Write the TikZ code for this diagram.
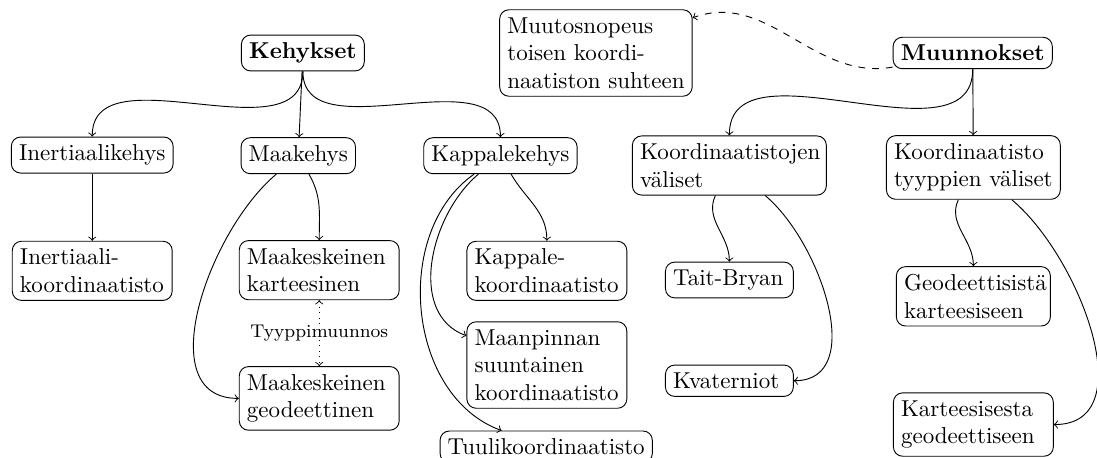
\documentclass[tikz,border=0pt]{standalone}
\usepackage{tikz}
\hyphenpenalty=10000
\exhyphenpenalty=10000
\tikzset{
  framenode/.style={draw, rounded corners, align=left},
  rootnode/.style={framenode, font=\bfseries},
  colnode/.style={framenode, text width=2.21cm},
  linkarrow/.style={->},
  typearrow/.style={<->, dotted},
  ratearrow/.style={->, dashed},
  typelabel/.style={font=\footnotesize}
}
\begin{document}
\begin{tikzpicture}
  \useasboundingbox (0,0) rectangle (16.77,-7.00);
  % roots
  \node[rootnode] (keh) at (4.63,-0.81) {Kehykset};
  \node[rootnode] (muun) at (14.87,-0.81) {Muunnokset};
  \node[framenode] (rate) at (9.11,-0.81) {Muutosnopeus\\toisen koordi-\\naatiston suhteen};
  % frames
  \node[framenode] (ik) at (1.41,-2.37) {Inertiaalikehys};
  \node[framenode] (maa) at (4.56,-2.38) {Maakehys};
  \node[framenode] (kap) at (7.65,-2.38) {Kappalekehys};
  \node[colnode] (ikk) at (1.41,-4.14) {Inertiaali-\\koordinaatisto};
  \node[colnode] (mkk) at (4.88,-4.13) {Maakeskeinen\\karteesinen};
  \node[colnode] (mkg) at (4.88,-6.09) {Maakeskeinen\\geodeettinen};
  \node[colnode] (kk) at (8.36,-4.14) {Kappale-\\koordinaatisto};
  \node[colnode] (mp) at (8.36,-5.58) {Maanpinnan\\suuntainen\\koordinaatisto};
  \node[framenode] (tk) at (8.35,-6.83) {Tuulikoordinaatisto};
  % transformations
  \node[framenode, text width=2.73cm] (kv) at (11.15,-2.53) {Koordinaatistojen\\v\"aliset};
  \node[framenode] (kt) at (14.88,-2.56) {Koordinaatisto\\tyyppien v\"aliset};
  \node[framenode, text width=1.72cm] (tb) at (11.15,-4.28) {Tait-Bryan};
  \node[framenode, text width=1.72cm] (kvat) at (11.15,-5.82) {Kvaterniot};
  \node[framenode, text width=2.12cm] (gk) at (14.88,-4.53) {Geodeettisist\"a\\karteesiseen};
  \node[colnode] (kg) at (14.88,-6.49) {Karteesisesta\\geodeettiseen};

  \draw[linkarrow] (keh) to[out=-90,in=90] (ik);
  \draw[linkarrow] (keh) -- (maa);
  \draw[linkarrow] (keh) to[out=-90,in=90] (kap);
  \draw[linkarrow] (ik) -- (ikk);
  \draw[linkarrow] (maa) to[out=-60,in=90] (mkk);
  \draw[linkarrow] (maa) to[out=-140,in=180] (mkg);
  \draw[typearrow] (mkk) -- node[typelabel] {Tyyppimuunnos} (mkg);
  \draw[linkarrow] (kap) to[out=-60,in=90] (kk);
  \draw[linkarrow] (kap) to[out=-140,in=160] (mp);
  \draw[linkarrow] (kap) to[out=-145,in=160] (tk);

  \draw[ratearrow] (muun) to[out=190,in=20] (rate);
  \draw[linkarrow] (muun) to[out=-90,in=90] (kv);
  \draw[linkarrow] (muun) -- (kt);
  \draw[linkarrow] (kv) to[out=-115,in=90] (tb);
  \draw[linkarrow] (kv) to[out=-40,in=0] (kvat);
  \draw[linkarrow] (kt) to[out=-115,in=90] (gk);
  \draw[linkarrow] (kt) to[out=-40,in=0] (kg);
\end{tikzpicture}
\end{document}
